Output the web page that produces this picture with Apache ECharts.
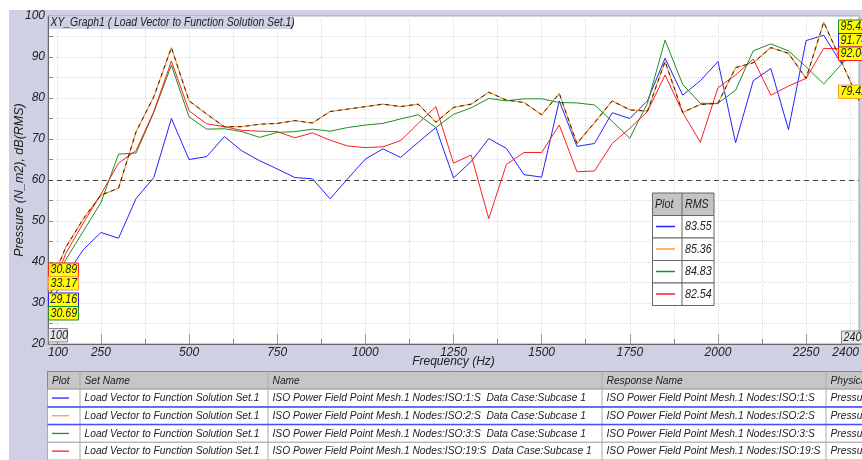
<!DOCTYPE html>
<html>
<head>
<meta charset="utf-8">
<script src="https://cdn.jsdelivr.net/npm/echarts@6/dist/echarts.min.js"></script>
<style>
  html, body { margin: 0; padding: 0; background: #fff; }
  #chart { width: 862px; height: 460px; }
</style>
</head>
<body>
<div id="chart"></div>
<script>
// frequency grid (Hz)
const freqs = [100, 150, 200, 250, 300, 350, 400, 450, 500, 550,
  600, 650, 700, 750, 800, 850, 900, 950, 1000, 1050,
  1100, 1150, 1200, 1250, 1300, 1350, 1400, 1450, 1500, 1550,
  1600, 1650, 1700, 1750, 1800, 1850, 1900, 1950, 2000, 2050,
  2100, 2150, 2200, 2250, 2300, 2350, 2400];

// Nodes:ISO:1:S
const isoNode1 = [29.16, 36.5, 43.0, 47.2, 45.8, 55.5, 60.6, 75.0, 65.0, 65.7,
  70.6, 67.1, 64.7, 62.7, 60.6, 60.3, 55.4, 60.3, 65.1, 67.6,
  65.5, 69.2, 72.8, 60.5, 64.5, 70.1, 67.7, 61.3, 60.7, 79.3,
  68.2, 68.9, 76.4, 75.0, 79.3, 89.7, 80.7, 84.2, 88.9, 69.1,
  84.2, 87.2, 72.3, 94.0, 95.3, 88.4, 91.74];
// Nodes:ISO:2:S (selected curve)
const isoNode2 = [33.17, 43.5, 50.5, 56.3, 58.0, 71.8, 80.3, 92.3, 79.3, 76.1,
  73.0, 73.0, 73.6, 73.8, 74.5, 73.9, 76.7, 77.3, 77.9, 78.5,
  77.9, 78.5, 74.1, 77.7, 78.5, 81.4, 79.5, 78.9, 75.9, 81.1,
  68.9, 74.0, 79.3, 77.1, 76.8, 88.9, 76.5, 78.4, 78.7, 87.4,
  88.6, 92.3, 90.9, 84.8, 98.5, 88.9, 79.42];
// Nodes:ISO:3:S
const isoNode3 = [30.69, 40.5, 47.5, 54.5, 66.3, 66.6, 76.5, 88.0, 75.4, 72.4,
  72.5, 71.8, 70.4, 71.6, 71.8, 72.4, 71.9, 72.8, 73.4, 73.8,
  74.9, 75.9, 72.8, 76.0, 77.6, 79.9, 79.3, 79.8, 79.8, 78.9,
  78.8, 78.3, 74.3, 70.2, 78.7, 94.1, 83.3, 78.7, 78.7, 81.9,
  91.5, 93.2, 91.5, 87.6, 83.4, 88.2, 95.42];
// Nodes:ISO:19:S
const isoNode19 = [30.89, 42.0, 49.5, 56.5, 64.1, 67.2, 76.7, 89.0, 76.9, 73.7,
  73.0, 72.1, 71.9, 71.8, 70.3, 71.5, 69.7, 68.3, 67.9, 68.1,
  69.6, 73.8, 77.9, 64.1, 66.1, 50.6, 63.8, 66.7, 66.7, 73.4,
  62.0, 62.2, 68.9, 72.6, 76.7, 85.6, 76.5, 69.2, 82.5, 85.6,
  89.5, 80.7, 82.9, 84.8, 92.1, 92.0, 92.0];

const rmsValues = [83.55, 85.36, 84.83, 82.54];
const colors = ['#2424ff', '#ff9a3c', '#1f8f1f', '#ff1e1e'];

const xLabelValues = [100, 250, 500, 750, 1000, 1250, 1500, 1750, 2000, 2250, 2400];
const xMajorTicks = [250, 500, 750, 1000, 1250, 1500, 1750, 2000, 2250];
const xMinorTicks = [125, 250, 375, 500, 625, 750, 875, 1000, 1125, 1250, 1375,
  1500, 1625, 1750, 1875, 2000, 2125, 2250, 2375];

const setNames = ['Load Vector to Function Solution Set.1', 'Load Vector to Function Solution Set.1',
  'Load Vector to Function Solution Set.1', 'Load Vector to Function Solution Set.1'];
const curveNames = [
  'ISO Power Field Point Mesh.1 Nodes:ISO:1:S  Data Case:Subcase 1',
  'ISO Power Field Point Mesh.1 Nodes:ISO:2:S  Data Case:Subcase 1',
  'ISO Power Field Point Mesh.1 Nodes:ISO:3:S  Data Case:Subcase 1',
  'ISO Power Field Point Mesh.1 Nodes:ISO:19:S  Data Case:Subcase 1'];
const responseNames = [
  'ISO Power Field Point Mesh.1 Nodes:ISO:1:S',
  'ISO Power Field Point Mesh.1 Nodes:ISO:2:S',
  'ISO Power Field Point Mesh.1 Nodes:ISO:3:S',
  'ISO Power Field Point Mesh.1 Nodes:ISO:19:S'];
const physNames = ['Pressure', 'Pressure', 'Pressure', 'Pressure'];
const headers = ['Plot', 'Set Name', 'Name', 'Response Name', 'Physical Type'];

const FONT = 'italic 12px "Liberation Sans", Arial, sans-serif';
const FONT_S = 'italic 11.5px "Liberation Sans", Arial, sans-serif';
const LAV = '#d0d0e4';
const SX = 0.89; // the source UI font is a little narrower than Liberation Sans

const pairs = vals => freqs.map((f, i) => [f, vals[i]]);

function txt(x, y, s, font, sx) {
  return {
    type: 'text', z: 100, x: x, y: y, scaleX: sx || SX,
    style: { text: s, font: font || FONT_S, fill: '#222', textVerticalAlign: 'middle', verticalAlign: 'middle' }
  };
}
function rect(x, y, w, h, fill, stroke, z, lw) {
  return { type: 'rect', z: z == null ? 100 : z, shape: { x: x, y: y, width: w, height: h },
    style: { fill: fill, stroke: stroke || null, lineWidth: lw || 1 } };
}
function hline(x1, y1, x2, y2, stroke, lw, z) {
  return { type: 'line', z: z == null ? 101 : z, shape: { x1: x1, y1: y1, x2: x2, y2: y2 },
    style: { stroke: stroke, lineWidth: lw || 1 } };
}

const g = [];
// lavender frame
g.push(rect(9, 10, 853, 450, LAV, null, -10));
// plot title
g.push(rect(49, 16, 244, 13, LAV, null));
g.push(txt(50.5, 22.5, 'XY_Graph1 ( Load Vector to Function Solution Set.1)', FONT, 0.865));

// cursor value boxes at 100 Hz and 2400 Hz
const allSeries = [isoNode1, isoNode2, isoNode3, isoNode19];
const leftOrder = [3, 1, 0, 2];
const leftY = [263, 276.5, 293, 306.5];
leftOrder.forEach((si, k) => {
  g.push(rect(48.5, leftY[k], 30, 13.5, '#ffff00', colors[si]));
  g.push(txt(50.5, leftY[k] + 7, allSeries[si][0].toFixed(2), FONT));
});
const rightOrder = [2, 0, 3, 1];
const rightY = [20, 33.5, 47, 85];
rightOrder.forEach((si, k) => {
  const v = allSeries[si][allSeries[si].length - 1].toFixed(2);
  g.push(rect(838.5, rightY[k], 34, 13.5, '#ffff00', colors[si]));
  g.push(txt(840.5, rightY[k] + 7, v, FONT));
});
// range boxes
g.push(rect(48.5, 328.5, 19, 13.5, '#e6e6ee', '#888'));
g.push(txt(50, 335.5, '100', FONT));
g.push(rect(841.5, 331, 30, 13, '#e6e6ee', '#888'));
g.push(txt(843.5, 337.5, '2400', FONT));

// RMS legend box
const lx = [652.5, 682, 714];
g.push(rect(lx[0], 193, lx[2] - lx[0], 22.5, '#c4c4c4', '#666'));
g.push(txt(655, 204.5, 'Plot', FONT));
g.push(txt(685, 204.5, 'RMS', FONT));
rmsValues.forEach((v, i) => {
  const y0 = 215.5 + i * 22.5;
  g.push(rect(lx[0], y0, lx[2] - lx[0], 22.5, '#fff', '#666'));
  g.push(hline(656, y0 + 11, 675, y0 + 11, colors[i], 1.5));
  g.push(txt(685, y0 + 11.5, v.toFixed(2), FONT));
});
g.push(hline(lx[1], 193, lx[1], 305.5, '#666', 1));

// bottom table
const cols = [47.5, 80, 268, 602, 826, 900];
const rowH = 17.7;
const tableTop = 371.5;
g.push(rect(cols[0], tableTop, cols[5] - cols[0], rowH, '#c6c6c6', '#888'));
headers.forEach((h, c) => g.push(txt(cols[c] + 4.5, tableTop + rowH / 2, h)));
for (let r = 0; r < 4; r++) {
  const y0 = tableTop + rowH * (r + 1);
  g.push(rect(cols[0], y0, cols[5] - cols[0], rowH, '#fff', '#aaa'));
  g.push(hline(52, y0 + rowH / 2, 69, y0 + rowH / 2, colors[r], 1.3));
  g.push(txt(cols[1] + 4.5, y0 + rowH / 2, setNames[r]));
  g.push(txt(cols[2] + 4.5, y0 + rowH / 2, curveNames[r]));
  g.push(txt(cols[3] + 4.5, y0 + rowH / 2, responseNames[r]));
  g.push(txt(cols[4] + 4.5, y0 + rowH / 2, physNames[r]));
}
for (let c = 1; c < 5; c++) g.push(hline(cols[c], tableTop, cols[c], 460, '#aaa', 1));
// selected row
g.push(hline(cols[0], tableTop + rowH * 2, 862, tableTop + rowH * 2, '#4a4aff', 1.5, 102));
g.push(hline(cols[0], tableTop + rowH * 3, 862, tableTop + rowH * 3, '#4a4aff', 1.5, 102));

const chart = echarts.init(document.getElementById('chart'));
chart.setOption({
  animation: false,
  backgroundColor: '#fff',
  textStyle: { fontFamily: '"Liberation Sans", Arial, sans-serif', fontStyle: 'italic' },
  grid: { left: 48, top: 16, right: -8, bottom: 116, show: true, backgroundColor: '#fff', borderColor: '#a0a0a0', borderWidth: 1 },
  xAxis: [{
    type: 'value', min: 100, max: 2400,
    name: 'Frequency (Hz)', nameLocation: 'middle', nameGap: 12, nameMoveOverlap: false,
    nameTextStyle: { fontSize: 12, fontStyle: 'italic', color: '#222' },
    axisLine: { lineStyle: { color: '#666' } },
    axisTick: { inside: true, length: 5, customValues: xMinorTicks, lineStyle: { color: '#888' } },
    axisLabel: { customValues: xLabelValues, margin: 3, fontSize: 12, fontStyle: 'italic', color: '#222',
      alignMinLabel: 'left', alignMaxLabel: 'right', formatter: v => String(v) },
    splitLine: { show: true, lineStyle: { color: '#dcdcdc', type: 'dotted' } }
  }, {
    type: 'value', min: 100, max: 2400, position: 'bottom',
    axisLine: { show: false },
    axisTick: { inside: true, length: 10, customValues: xMajorTicks, lineStyle: { color: '#999' } },
    axisLabel: { show: false },
    splitLine: { show: false }
  }],
  yAxis: {
    type: 'value', min: 20, max: 100, interval: 5,
    name: 'Pressure (N_m2), dB(RMS)', nameLocation: 'middle', nameGap: 22, nameMoveOverlap: false,
    nameTextStyle: { fontSize: 12.5, fontStyle: 'italic', color: '#222' },
    axisLine: { show: true, lineStyle: { color: '#666' } },
    axisTick: { show: true, inside: true, length: 5, lineStyle: { color: '#888' } },
    axisLabel: { margin: 3, fontSize: 12, fontStyle: 'italic', color: '#222',
      formatter: v => (v % 10 === 0 ? String(v) : '') },
    splitLine: { show: true, lineStyle: { color: '#dcdcdc', type: 'dotted' } }
  },
  series: [
    { name: 'ISO:1', type: 'line', data: pairs(isoNode1), symbol: 'none', z: 3,
      lineStyle: { color: colors[0], width: 1 },
      markLine: { silent: true, symbol: 'none', label: { show: false },
        lineStyle: { color: '#444', type: [5, 4], width: 1 }, data: [{ yAxis: 60 }] } },
    { name: 'ISO:2', type: 'line', data: pairs(isoNode2), symbol: 'none', z: 3,
      lineStyle: { color: colors[1], width: 1.2 } },
    { name: 'ISO:3', type: 'line', data: pairs(isoNode3), symbol: 'none', z: 3,
      lineStyle: { color: colors[2], width: 1 } },
    { name: 'ISO:19', type: 'line', data: pairs(isoNode19), symbol: 'none', z: 3,
      lineStyle: { color: colors[3], width: 1 } },
    // selection highlight drawn over the selected curve
    { name: 'ISO:2 sel', type: 'line', data: pairs(isoNode2), symbol: 'none', z: 4,
      lineStyle: { color: '#222', width: 1, type: [4, 4] } }
  ],
  graphic: { elements: g }
});
</script>
</body>
</html>
